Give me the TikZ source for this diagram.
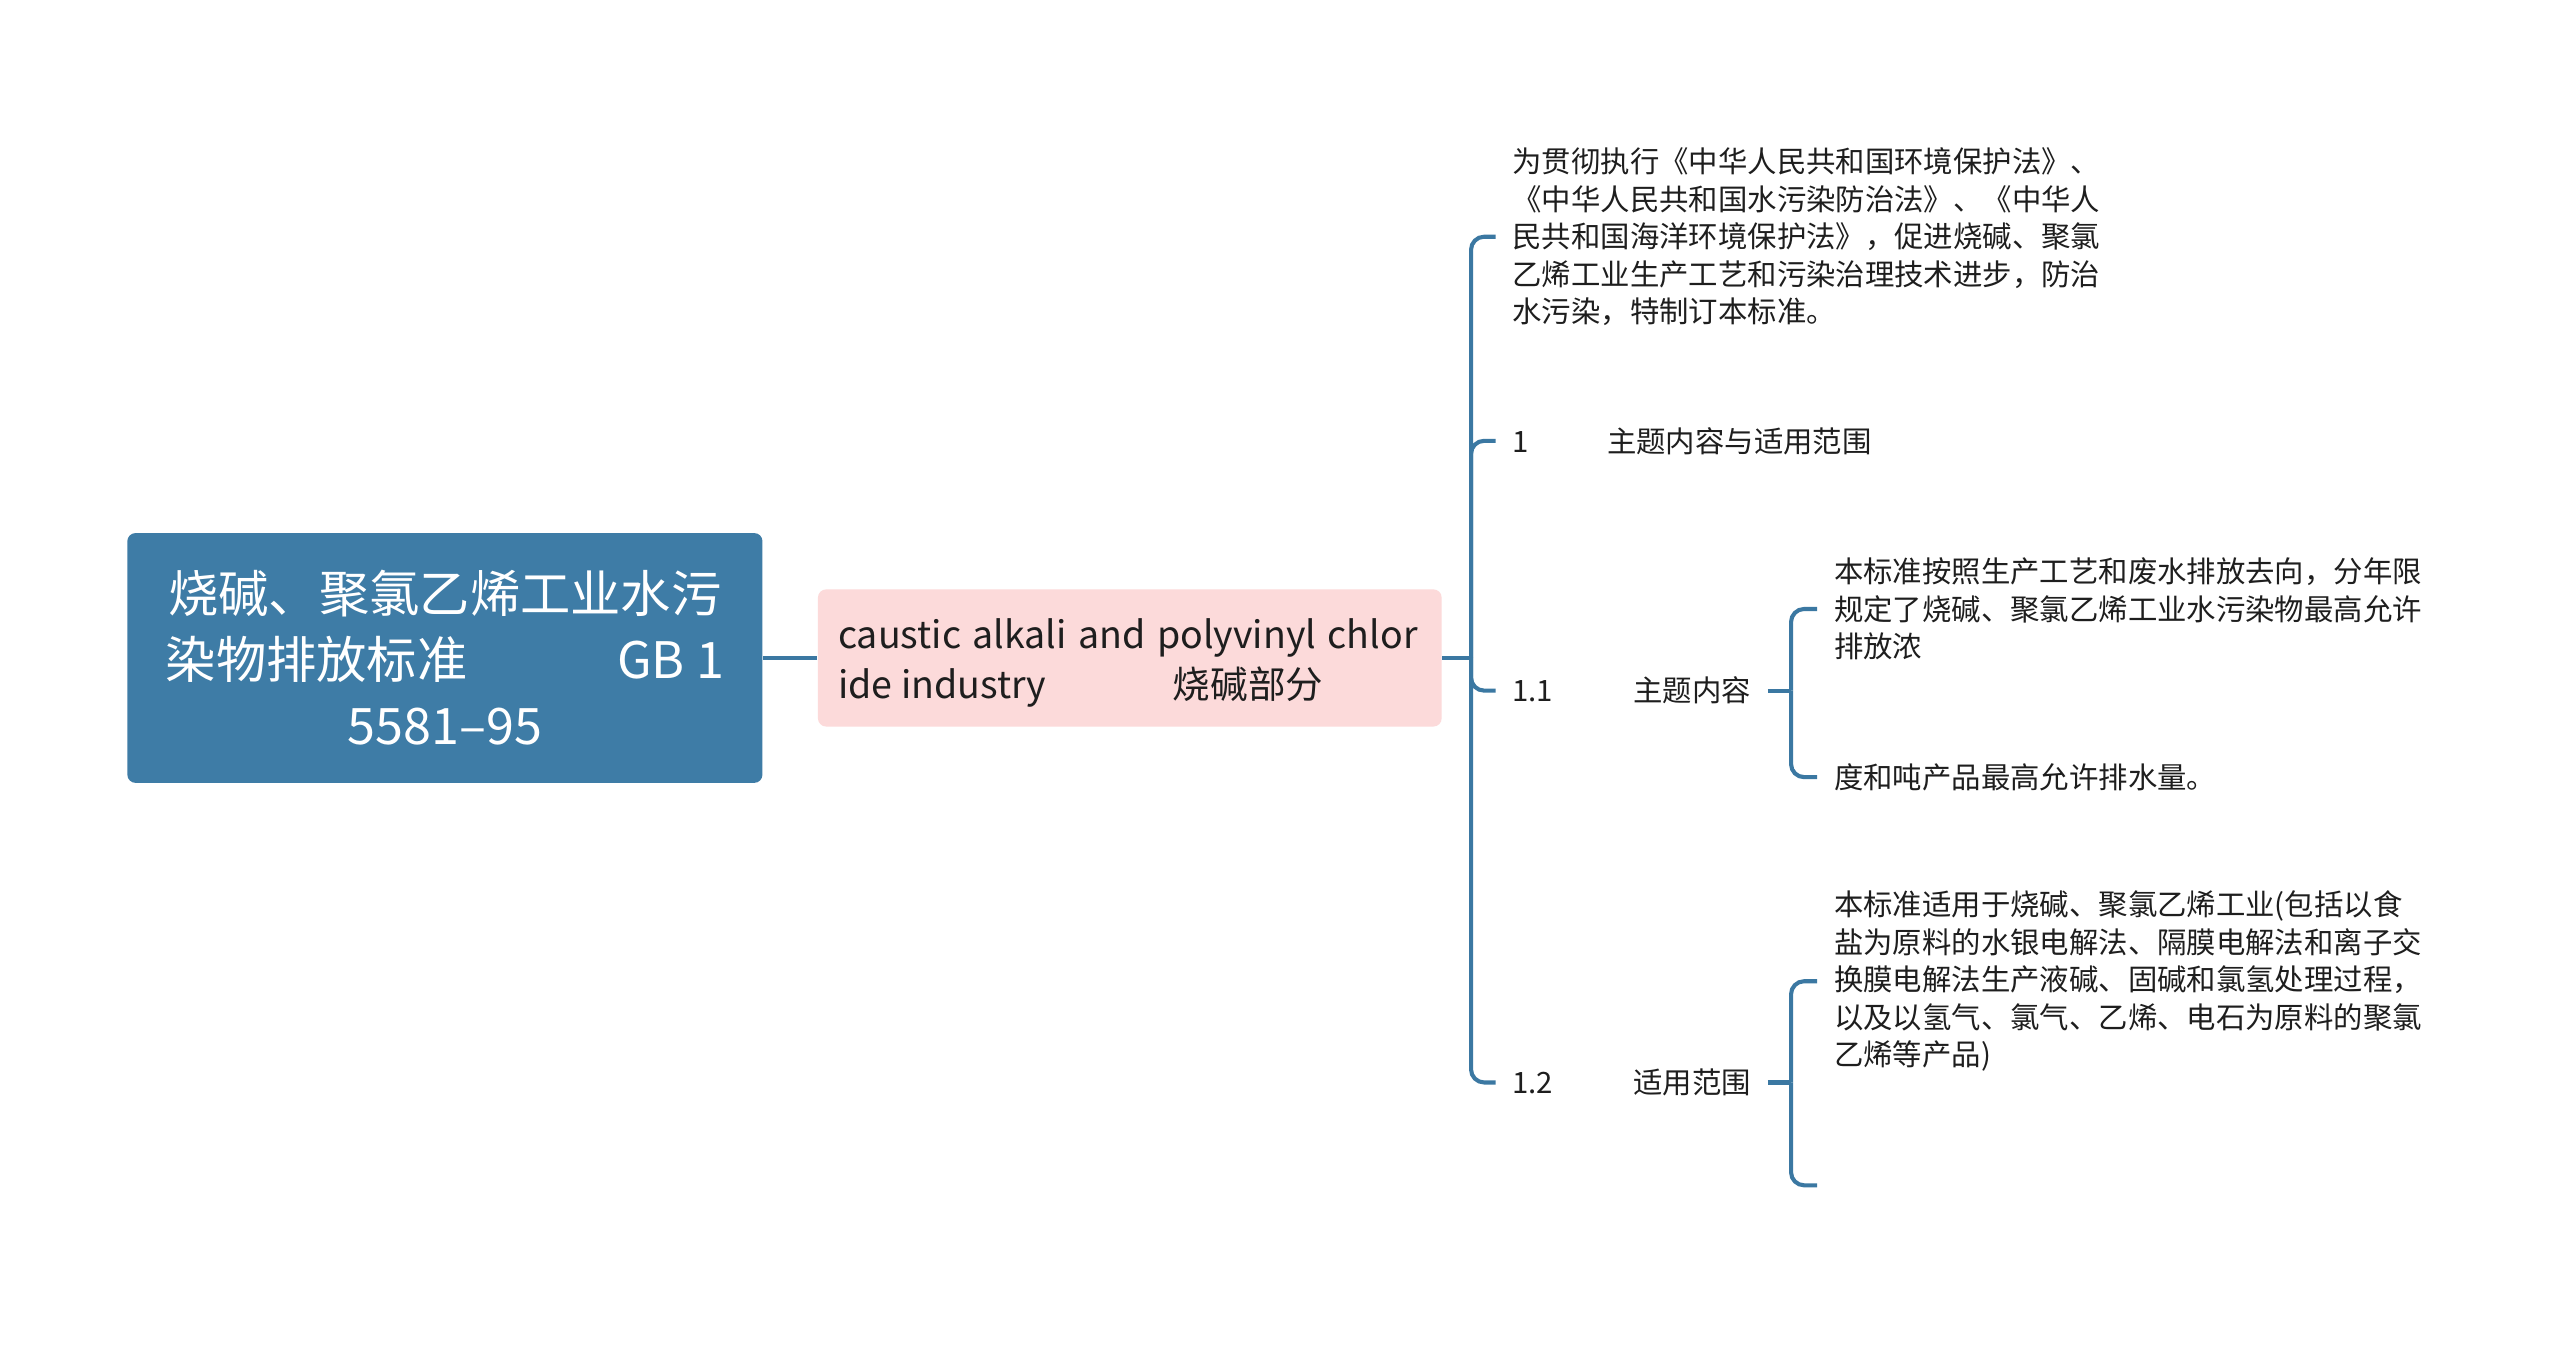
\documentclass[tikz,border=0pt]{standalone}
\usepackage{fontspec}
\setmainfont{Noto Sans CJK SC}
\definecolor{rootblue}{HTML}{3E7CA6}
\definecolor{lineblue}{HTML}{3B78A2}
\definecolor{pinkfill}{HTML}{FCDADA}
\definecolor{txt}{HTML}{1E1E1E}
\begin{document}
\begin{tikzpicture}[x=0.5pt,y=-0.5pt,
  rootbox/.style={fill=rootblue, rounded corners=2.5pt, minimum width=194.5pt, minimum height=76.5pt, inner sep=0pt, text=white, align=center, font=\fontsize{15.4pt}{20.25pt}\selectfont},
  pinkbox/.style={fill=pinkfill, rounded corners=2.5pt, minimum width=191pt, minimum height=42pt, inner sep=0pt},
  pinktext/.style={anchor=west, inner sep=0pt, align=left, text=txt, font=\fontsize{11.5pt}{15.5pt}\selectfont},
  leaf/.style={anchor=west, inner xsep=5pt, inner ysep=0pt, align=left, text=txt, font=\fontsize{9pt}{11.5pt}\selectfont},
  conn/.style={draw=lineblue, line width=1.25pt, rounded corners=4pt}]
\useasboundingbox (0,0) rectangle (1568,824);
\fill[white] (0,0) rectangle (1568,824);

\node[rootbox] (root) at (272.5,403) {烧碱、聚氯乙烯工业水污\\\makebox[171pt]{染物排放标准\hfill GB 1}\\5581–95};
\node[pinkbox] (pink) at (692,403) {};
\node[pinktext] (pinkt) at (513,406) {\makebox[177.5pt][s]{caustic alkali and polyvinyl chlor}\\\rlap{ide industry}\hspace*{102.5pt}烧碱部分};

\coordinate (P) at (901,403);
\node[leaf] (c1) at (916,145) {为贯彻执行《中华人民共和国环境保护法》、\\《中华人民共和国水污染防治法》、《中华人\\民共和国海洋环境保护法》，促进烧碱、聚氯\\乙烯工业生产工艺和污染治理技术进步，防治\\水污染，特制订本标准。};
\node[leaf] (c2) at (916,270) {\rlap{1}\hspace*{29pt}主题内容与适用范围};
\node[leaf] (c3) at (916,423) {\rlap{1.1}\hspace*{37pt}主题内容};
\node[leaf] (c4) at (916,663) {\rlap{1.2}\hspace*{37pt}适用范围};

\coordinate (Q3) at (1097,423);
\coordinate (Q4) at (1097,663);
\node[leaf] (c3a) at (1113,373) {本标准按照生产工艺和废水排放去向，分年限\\规定了烧碱、聚氯乙烯工业水污染物最高允许\\排放浓};
\node[leaf] (c3b) at (1113,476) {度和吨产品最高允许排水量。};
\node[leaf] (c4a) at (1113,601) {本标准适用于烧碱、聚氯乙烯工业(包括以食\\盐为原料的水银电解法、隔膜电解法和离子交\\换膜电解法生产液碱、固碱和氯氢处理过程，\\以及以氢气、氯气、乙烯、电石为原料的聚氯\\乙烯等产品)};
\coordinate (c4b) at (1113,726);

\draw[conn] (root.east) -- (pink.west);
\draw[conn] (pink.east) -- (P);
\draw[conn] (P) |- (c1.west);
\draw[conn] (P) |- (c2.west);
\draw[conn] (P) |- (c3.west);
\draw[conn] (P) |- (c4.west);
\draw[conn] (c3.east) -- (Q3);
\draw[conn] (Q3) |- (c3a.west);
\draw[conn] (Q3) |- (c3b.west);
\draw[conn] (c4.east) -- (Q4);
\draw[conn] (Q4) |- (c4a.west);
\draw[conn] (Q4) |- (c4b);
\end{tikzpicture}
\end{document}
